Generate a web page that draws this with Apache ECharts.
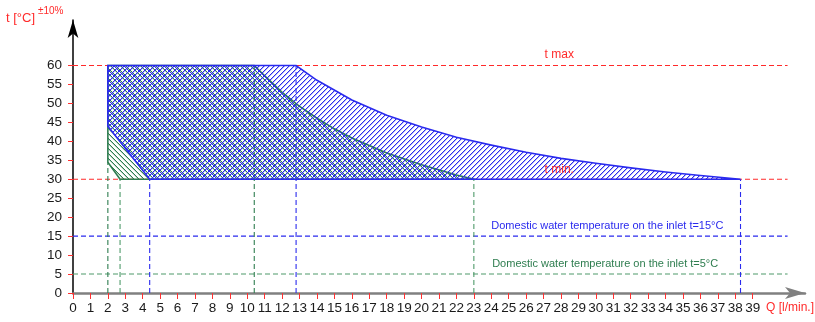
<!DOCTYPE html>
<html>
<head>
<meta charset="utf-8">
<script src="https://cdn.jsdelivr.net/npm/echarts@6/dist/echarts.min.js"></script>
<style>html,body{margin:0;padding:0;background:#fff}#c{width:815px;height:322px}</style>
</head>
<body>
<div id="c"></div>
<script>
// ---- data ----
const qTickValues = [0,1,2,3,4,5,6,7,8,9,10,11,12,13,14,15,16,17,18,19,20,21,22,23,24,25,26,27,28,29,30,31,32,33,34,35,36,37,38,39];
const tTickValues = [0,5,10,15,20,25,30,35,40,45,50,55,60];
const tMax = 60;
const tMin = 30;
const inletTemps = [15, 5];
// region for inlet 15°C (blue)
const blueQ = [2, 12.8, 14, 16, 18, 20, 22, 24, 26, 28, 30, 32, 34, 36, 38.3, 4.4, 2];
const blueT = [60, 60, 56.1, 50.9, 46.9, 43.8, 41.1, 39.0, 37.1, 35.5, 34.2, 33.0, 31.9, 31.0, 30, 30, 44];
// region for inlet 5°C (green)
const greenQ = [2, 10.4, 11, 12, 13, 14, 15, 16, 18, 20, 22, 23, 2.7, 2];
const greenT = [60, 60, 57.3, 52.9, 49.2, 46.1, 43.3, 40.9, 36.9, 33.8, 31.1, 30, 30, 34.5];
// vertical guide lines
const vLineQ = [2, 2.7, 4.4, 10.4, 12.8, 23, 38.3];
const vLineTop = [34.5, 30, 30, 60, 60, 30, 30];
const hLineEndQ = 41;
// annotations
const noteTexts = ['t max', 't min.', 'Domestic water temperature on the inlet t=15°C', 'Domestic water temperature on the inlet t=5°C'];
const noteQ = [27.9, 27.9, 24.0, 24.05];
const noteT = [62.8, 32.5, 17.6, 7.7];

// overlap of both regions (green boundary down to 23/30, then blue's lower-left corner)
const overlapQ = greenQ.slice(0, 12).concat(blueQ.slice(15));
const overlapT = greenT.slice(0, 12).concat(blueT.slice(15));

// ---- styles ----
const RED = '#ff2a2a', BLUE = '#2a2aee', GREEN = '#2e7d4f', GREEN2 = '#4f9a6a';
const FONT = 'Liberation Sans, Arial, sans-serif';
const vLineColors = [GREEN, GREEN2, BLUE, GREEN, BLUE, GREEN2, BLUE];
const hLineColors = [RED, RED, BLUE, GREEN2];
const noteStyles = [
  {fill: RED, align: 'center', size: 12},
  {fill: RED, align: 'center', size: 12},
  {fill: BLUE, align: 'left', size: 11},
  {fill: GREEN, align: 'left', size: 11}
];

function hatch(rgb, dir, size, shift, soft) {
  const c = document.createElement('canvas');
  c.width = size; c.height = size;
  const g = c.getContext('2d');
  for (let i = 0; i < size; i++) {
    const y = ((dir === '/' ? size - 1 - i : i) + shift) % size;
    g.fillStyle = 'rgba(' + rgb + ',1)';
    g.fillRect(i, y, 1, 1);
    if (soft > 0) {
      g.fillStyle = 'rgba(' + rgb + ',' + soft + ')';
      g.fillRect(i, (y + 1) % size, 1, 1);
    }
  }
  return c;
}
const bluePattern = {image: hatch('42,42,238', '/', 5, 0, 0.35), repeat: 'repeat'};
const greenPattern = {image: hatch('46,125,79', '\\', 5, 0, 0.35), repeat: 'repeat'};
const overlapPattern = {image: hatch('42,42,238', '\\', 10, 2, 0), repeat: 'repeat'};

function polygonSeries(Q, T, fill, stroke, z) {
  return {
    type: 'custom', silent: true, z: z,
    data: Q.map((q, i) => [q, T[i]]),
    renderItem: function (params, api) {
      if (params.dataIndex !== 0) return null;
      const pts = Q.map((q, i) => api.coord([q, T[i]]));
      return {type: 'polygon', shape: {points: pts},
        style: {fill: fill, stroke: stroke, lineWidth: 1.6, lineJoin: 'miter'}};
    }
  };
}

function dashSeries(data, color, z) {
  return {type: 'line', silent: true, symbol: 'none', z: z, color: color,
    data: data, itemStyle: {color: color},
    lineStyle: {color: color, width: 1.1, type: [5, 3], opacity: 1},
    emphasis: {disabled: true}};
}

const series = [];
const hT = [tMax, tMin].concat(inletTemps);
hT.forEach((t, i) => series.push(dashSeries([[0, t], [hLineEndQ, t]], hLineColors[i], 1)));
vLineQ.forEach((q, i) => series.push(dashSeries([[q, 0], [q, vLineTop[i]]], vLineColors[i], 2)));
series.push(polygonSeries(greenQ, greenT, greenPattern, GREEN, 3));
series.push(polygonSeries(overlapQ, overlapT, overlapPattern, null, 3));
series.push(polygonSeries(blueQ, blueT, bluePattern, BLUE, 4));
series.push({
  type: 'custom', silent: true, z: 5,
  data: noteQ.map((q, i) => [q, noteT[i]]),
  renderItem: function (params, api) {
    const i = params.dataIndex;
    const p = api.coord([noteQ[i], noteT[i]]);
    const s = noteStyles[i];
    return {type: 'text', x: p[0], y: p[1],
      style: {text: noteTexts[i], fill: s.fill, align: s.align, verticalAlign: 'middle',
        font: s.size + 'px ' + FONT}};
  }
});

const chart = echarts.init(document.getElementById('c'), null, {renderer: 'canvas'});
chart.setOption({
  animation: false,
  backgroundColor: '#fff',
  grid: {left: 73, right: 10, top: 20, bottom: 29},
  xAxis: {
    type: 'value', min: 0, max: 42,
    splitLine: {show: false},
    axisLine: {lineStyle: {color: '#808080', width: 2.5}, symbol: ['none', 'arrow'], symbolSize: [9, 20]},
    axisTick: {customValues: qTickValues, length: 6, lineStyle: {color: '#ff3030', width: 1}},
    axisLabel: {customValues: qTickValues, color: '#1a1a1a', fontSize: 13.5, fontFamily: FONT, margin: 8}
  },
  yAxis: {
    type: 'value', min: 0, max: 72,
    splitLine: {show: false},
    axisLine: {lineStyle: {color: '#000', width: 1.5}, symbol: ['none', 'arrow'], symbolSize: [8, 18]},
    axisTick: {customValues: tTickValues, length: 5, lineStyle: {color: '#ff3030', width: 1}},
    axisLabel: {customValues: tTickValues, color: '#1a1a1a', fontSize: 13.5, fontFamily: FONT, margin: 11}
  },
  graphic: [
    {type: 'text', left: 6, top: 12, style: {text: 't [°C]', fill: RED, font: '13px ' + FONT}},
    {type: 'text', left: 38, top: 6, style: {text: '±10%', fill: RED, font: '10px ' + FONT}},
    {type: 'text', right: 1, top: 302, style: {text: 'Q [l/min.]', fill: RED, font: '12px ' + FONT}}
  ],
  series: series
});
</script>
</body>
</html>
